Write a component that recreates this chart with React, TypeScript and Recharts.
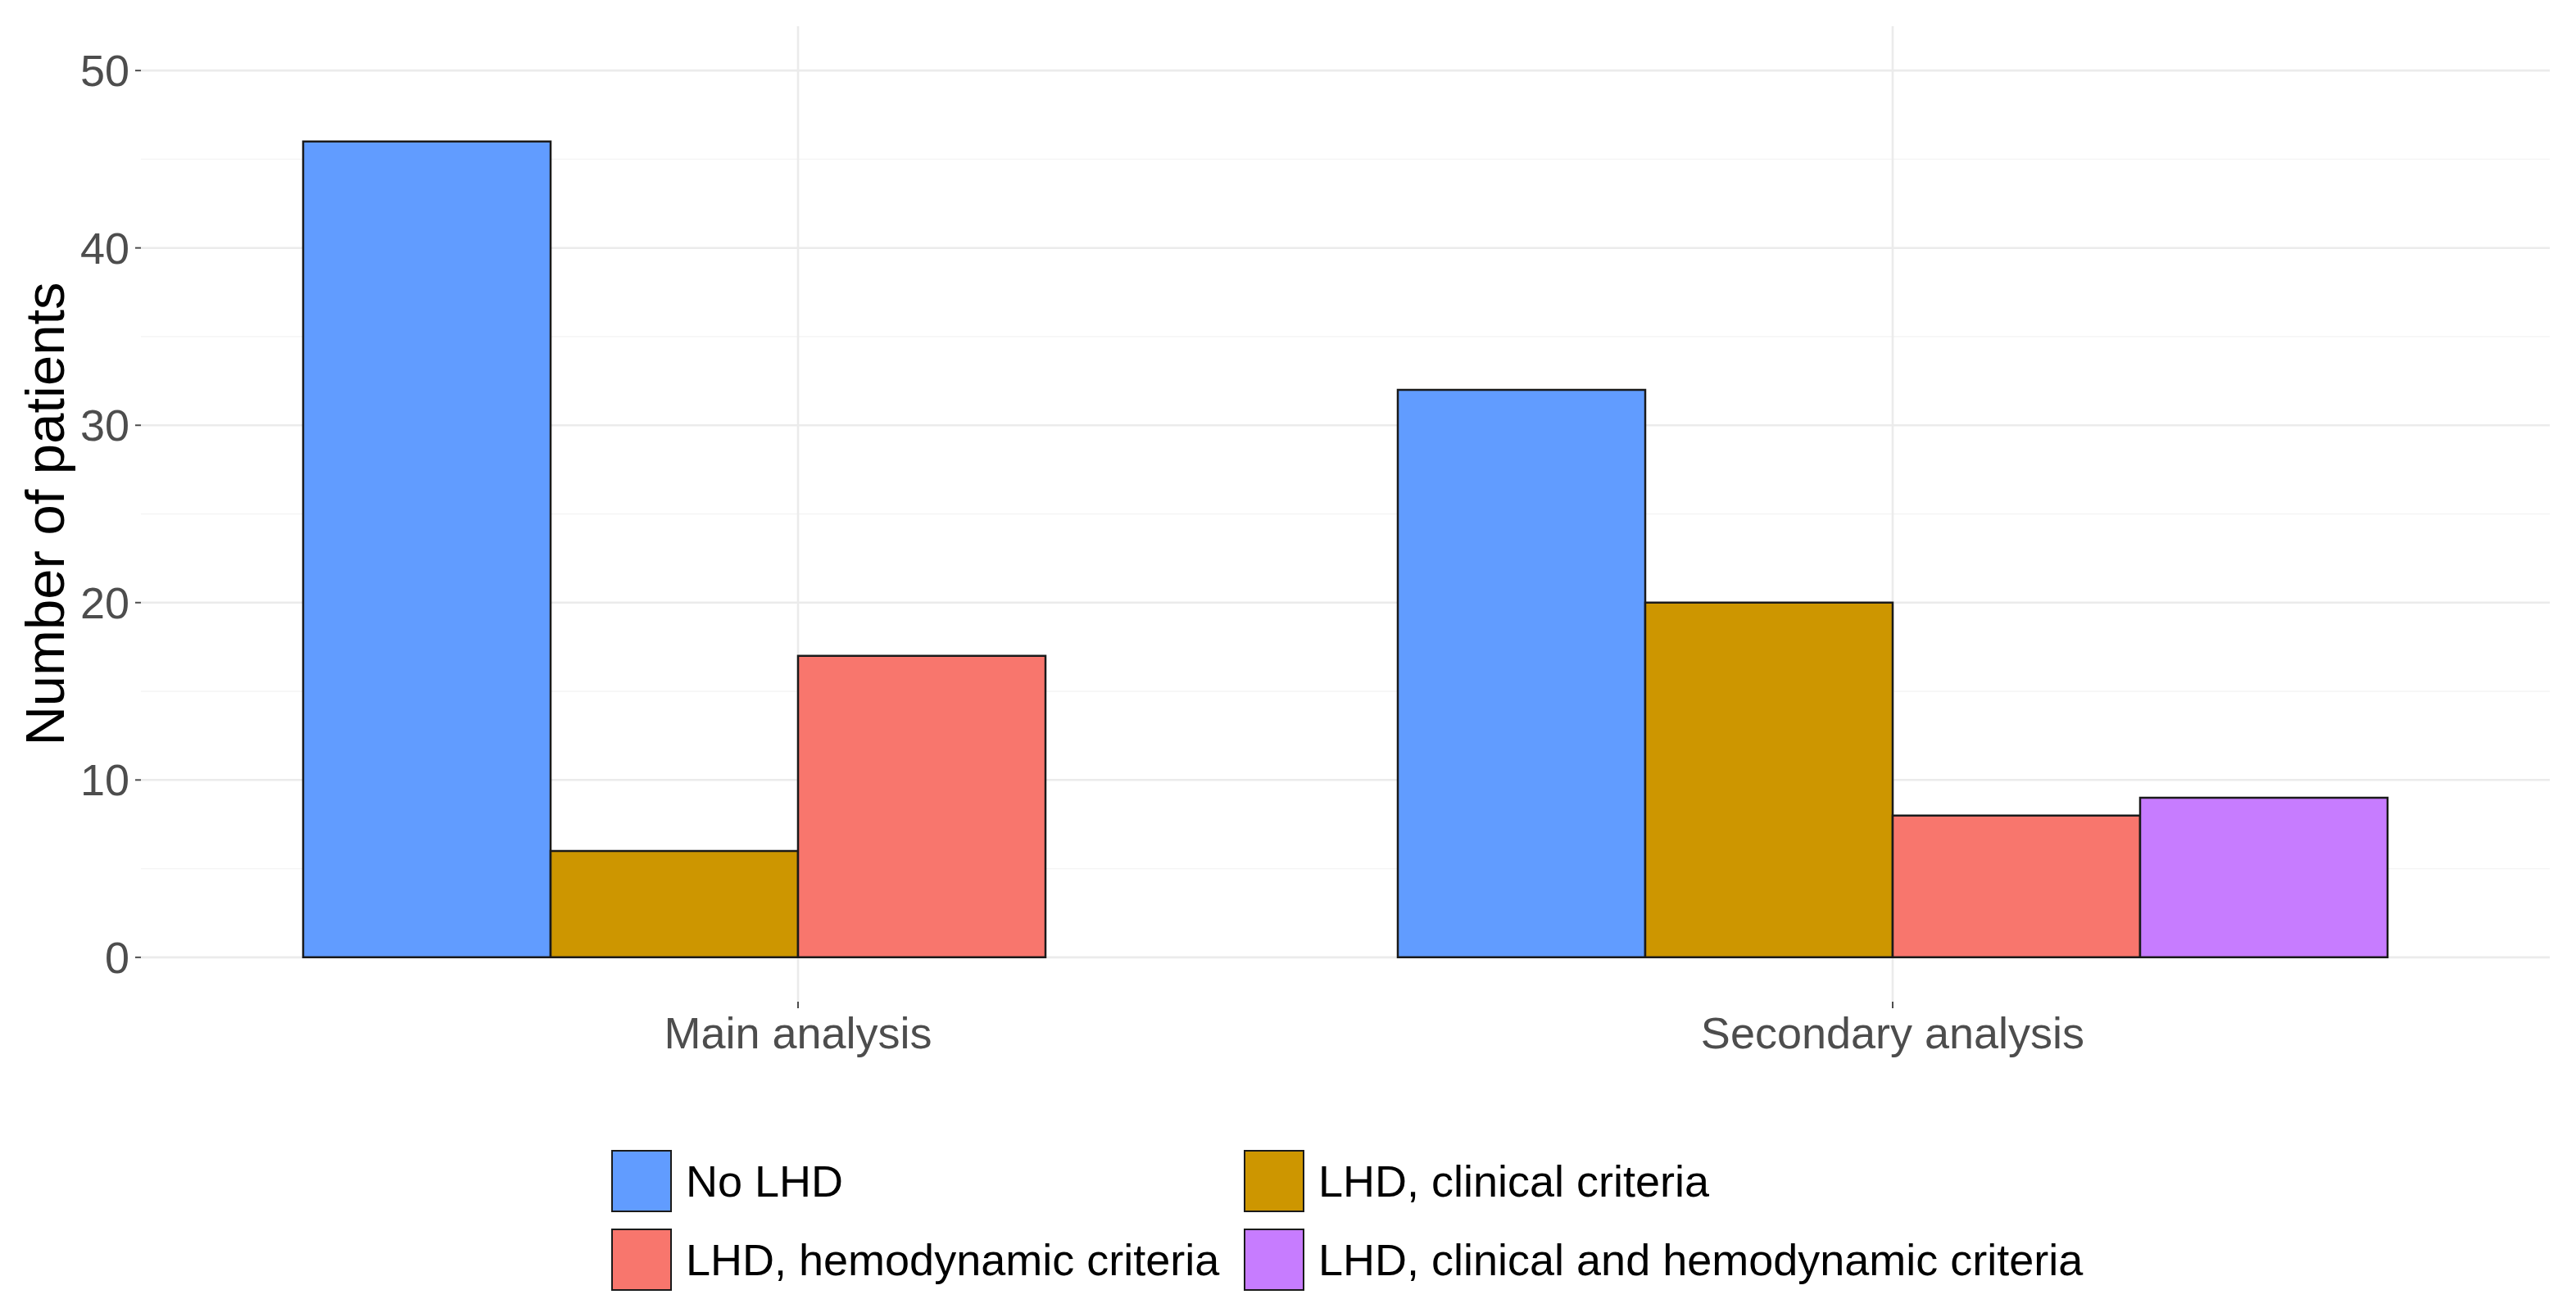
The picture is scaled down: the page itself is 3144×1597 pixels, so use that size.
import React from 'react';
import { BarChart, Bar, XAxis, YAxis, CartesianGrid, Legend } from 'recharts';

const categories = ['Main analysis', 'Secondary analysis'];
const noLHD = [46, 32];
const lhdClinical = [6, 20];
const lhdHemodynamic = [17, 8];
const lhdBoth: (number | null)[] = [null, 9];

const seriesNames = [
  'No LHD',
  'LHD, clinical criteria',
  'LHD, hemodynamic criteria',
  'LHD, clinical and hemodynamic criteria',
];
const seriesColors = ['#619CFF', '#CD9600', '#F8766D', '#C77CFF'];
const seriesKeys = ['noLHD', 'clinical', 'hemodynamic', 'both'];

const majorTicks = [0, 10, 20, 30, 40, 50];
const minorTicks = [5, 15, 25, 35, 45];
const yDomain = [-2.5, 52.5];

const data = categories.map((c, i) => ({
  category: c,
  noLHD: noLHD[i],
  clinical: lhdClinical[i],
  hemodynamic: lhdHemodynamic[i],
  both: lhdBoth[i],
}));

const FONT = '"Liberation Sans", Arial, Helvetica, sans-serif';

const legendOrder = [0, 1, 2, 3];

const CustomLegend = () => (
  <div
    style={{
      display: 'grid',
      gridTemplateColumns: '772px auto',
      gridAutoRows: '96px',
      fontFamily: FONT,
      fontSize: 54,
      color: '#000',
    }}
  >
    {legendOrder.map((idx) => (
      <div key={idx} style={{ display: 'flex', alignItems: 'flex-start', height: 96 }}>
        <div
          style={{
            width: 70,
            height: 72,
            background: seriesColors[idx],
            border: '2.5px solid #1a1a1a',
            flex: 'none',
          }}
        />
        <div style={{ marginLeft: 17, lineHeight: '76px', whiteSpace: 'nowrap' }}>
          {seriesNames[idx]}
        </div>
      </div>
    ))}
  </div>
);

export default function App() {
  return (
    <div
      style={{
        position: 'absolute',
        left: 0,
        top: 0,
        width: 3144,
        height: 1597,
        background: '#ffffff',
      }}
    >
      <BarChart
        width={3144}
        height={1597}
        data={data}
        margin={{ top: 32, right: 32, left: 0, bottom: 274 }}
        barCategoryGap={64}
        barGap={0}
      >
        <CartesianGrid
          yAxisId="minor"
          vertical={false}
          syncWithTicks
          stroke="#F4F4F4"
          strokeWidth={1.4}
        />
        <CartesianGrid syncWithTicks stroke="#EBEBEB" strokeWidth={2.6} />
        <XAxis
          dataKey="category"
          padding={{ left: 134, right: 134 }}
          axisLine={false}
          tickLine={{ stroke: '#4D4D4D', strokeWidth: 2 }}
          tickSize={8}
          tickMargin={11}
          height={100}
          tick={{ fontSize: 54, fill: '#4D4D4D', fontFamily: FONT }}
        />
        <YAxis
          domain={yDomain}
          ticks={majorTicks}
          allowDataOverflow
          width={172}
          axisLine={false}
          tickLine={{ stroke: '#4D4D4D', strokeWidth: 2 }}
          tickSize={7}
          tickMargin={7}
          tick={{ fontSize: 54, fill: '#4D4D4D', fontFamily: FONT }}
          label={{
            value: 'Number of patients',
            angle: -90,
            position: 'insideLeft',
            offset: 54,
            style: { textAnchor: 'middle', fontSize: 67, fill: '#000', fontFamily: FONT },
          }}
        />
        <YAxis
          yAxisId="minor"
          domain={yDomain}
          ticks={minorTicks}
          allowDataOverflow
          hide
        />
        {seriesKeys.map((k, i) => (
          <Bar
            key={k}
            dataKey={k}
            name={seriesNames[i]}
            fill={seriesColors[i]}
            stroke="#1a1a1a"
            strokeWidth={2.5}
            isAnimationActive={false}
          />
        ))}
        <Legend
          layout="vertical"
          align="center"
          verticalAlign="middle"
          content={() => <CustomLegend />}
          wrapperStyle={{ left: 746, top: 1404, width: 1500, right: 'auto', bottom: 'auto' }}
        />
      </BarChart>
    </div>
  );
}
